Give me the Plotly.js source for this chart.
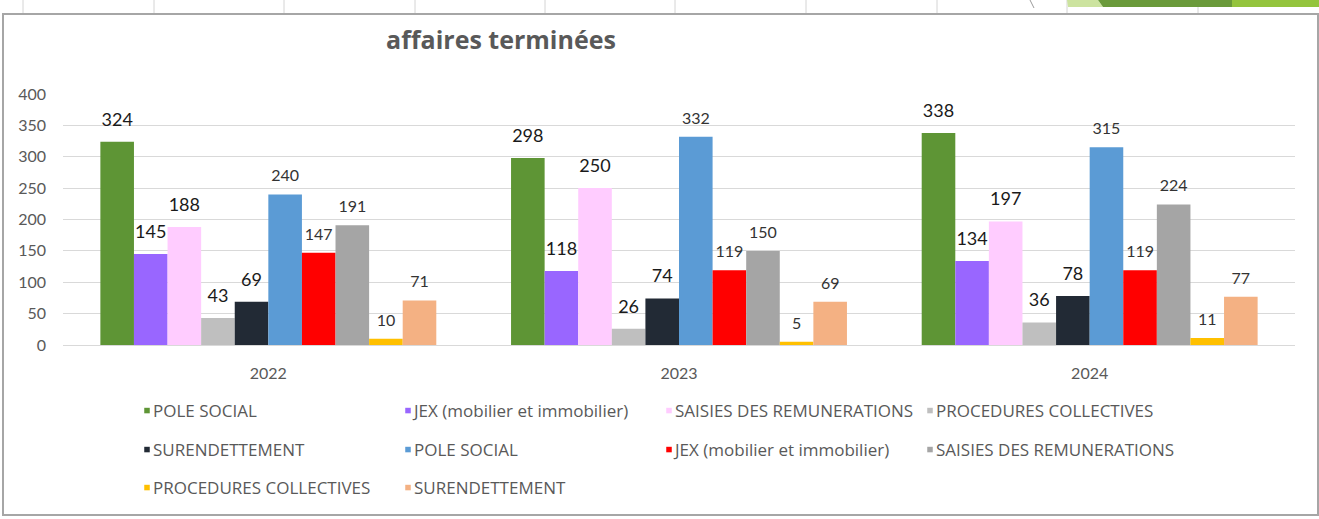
<!DOCTYPE html>
<html>
<head>
<meta charset="utf-8">
<script src="https://cdn.plot.ly/plotly-3.0.1.min.js"></script>
<style>
  html, body { margin: 0; padding: 0; background: #ffffff; }
  #chart { width: 1319px; height: 519px; }
  /* Excel-style small legend keys sitting just before their text */
  #chart g.legendpoints path {
    transform-box: fill-box;
    transform-origin: center;
    transform: translate(34px, 0px) scale(0.46) !important;
  }
</style>
</head>
<body>
<div id="chart"></div>
<script>
// ---- data ----
const years = ['2022', '2023', '2024'];
const seriesNames = [
  'POLE SOCIAL', 'JEX (mobilier et immobilier)', 'SAISIES DES REMUNERATIONS', 'PROCEDURES COLLECTIVES', 'SURENDETTEMENT',
  'POLE SOCIAL', 'JEX (mobilier et immobilier)', 'SAISIES DES REMUNERATIONS', 'PROCEDURES COLLECTIVES', 'SURENDETTEMENT'
];
const poleSocial1   = [324, 298, 338];
const jex1          = [145, 118, 134];
const saisies1      = [188, 250, 197];
const procedures1   = [43, 26, 36];
const surend1       = [69, 74, 78];
const poleSocial2   = [240, 332, 315];
const jex2          = [147, 119, 119];
const saisies2      = [191, 150, 224];
const procedures2   = [10, 5, 11];
const surend2       = [71, 69, 77];
const seriesValues = [poleSocial1, jex1, saisies1, procedures1, surend1,
                      poleSocial2, jex2, saisies2, procedures2, surend2];
const yTicks = [0, 50, 100, 150, 200, 250, 300, 350, 400];

// ---- styles ----
const colors = ['#5e9535', '#9966ff', '#ffccff', '#bfbfbf', '#222a35',
                '#5b9bd5', '#ff0000', '#a5a5a5', '#ffc000', '#f4b183'];
const labelSizes = [18, 18, 18, 18, 18, 16, 16, 16, 16, 16];
const labelGap = [17, 17, 17, 17, 17, 13, 13, 13, 13, 13];
const labelColors = ['#1a1a1a','#1a1a1a','#1a1a1a','#1a1a1a','#1a1a1a',
                     '#333333','#333333','#333333','#333333','#333333'];
const legendOf = ['legend','legend','legend','legend','legend2','legend2','legend2','legend2','legend3','legend3'];
const lastInRow = [false, false, false, true, false, false, false, true, false, true];
const FONT = 'Lato, "Open Sans", sans-serif';
const LEGFONT = '"Open Sans", Lato, sans-serif';

const traces = [];
seriesValues.forEach((vals, i) => {
  const t = {
    type: 'bar', x: years, y: vals, name: seriesNames[i],
    marker: {color: colors[i], line: {width: 0}},
    legend: legendOf[i], hoverinfo: 'skip'
  };
  if (lastInRow[i]) t.legendwidth = 260;
  traces.push(t);
});
seriesValues.forEach((vals, i) => {
  traces.push({
    type: 'scatter', mode: 'markers+text', x: years, y: vals,
    text: vals.map(String), textposition: 'top center',
    textfont: {family: FONT, size: labelSizes[i], color: labelColors[i]},
    marker: {size: labelGap[i], opacity: 0, color: colors[i]},
    showlegend: false, hoverinfo: 'skip', cliponaxis: false
  });
});

// pixel -> paper helpers for decorations
const L = 63, T = 94, PW = 1232, PH = 251;
const px = v => (v - L) / PW;
const py = v => (T + PH - v) / PH;

const shapes = [];
// chart frame
shapes.push({type: 'rect', xref: 'paper', yref: 'paper', x0: px(3), x1: px(1318), y0: py(515), y1: py(14),
  line: {color: '#a6a6a6', width: 2}, layer: 'below'});
// spreadsheet column marks above frame
[23, 154, 284, 415, 545, 675, 806, 937, 1067, 1198].forEach(x => {
  shapes.push({type: 'line', xref: 'paper', yref: 'paper', x0: px(x), x1: px(x), y0: py(0), y1: py(13),
    line: {color: '#d4d4d4', width: 1}});
});
// slide decoration top right
const poly = (pts) => 'M' + pts.map(p => px(p[0]) + ',' + py(p[1])).join('L') + 'Z';
shapes.push({type: 'path', xref: 'paper', yref: 'paper', path: poly([[1067,0],[1098,0],[1103,7],[1068,7]]),
  fillcolor: '#cce39f', line: {width: 0}});
shapes.push({type: 'path', xref: 'paper', yref: 'paper', path: poly([[1098,0],[1232,0],[1232,7],[1103,7]]),
  fillcolor: '#6a9a3a', line: {width: 0}});
shapes.push({type: 'path', xref: 'paper', yref: 'paper', path: poly([[1232,0],[1319,0],[1319,7],[1232,7]]),
  fillcolor: '#94c43d', line: {width: 0}});
shapes.push({type: 'line', xref: 'paper', yref: 'paper', x0: px(1030), x1: px(1034), y0: py(0), y1: py(8),
  line: {color: '#9a9a9a', width: 1}});

const legendBase = {
  orientation: 'h', xanchor: 'left', yanchor: 'middle', x: px(113),
  entrywidth: 216, entrywidthmode: 'pixels', bgcolor: 'rgba(0,0,0,0)',
  font: {family: LEGFONT, size: 17, color: '#595959'}, traceorder: 'normal'
};

const layout = {
  width: 1319, height: 519,
  margin: {l: L, r: 1319 - L - PW, t: T, b: 519 - T - PH, autoexpand: false},
  paper_bgcolor: '#ffffff', plot_bgcolor: 'rgba(0,0,0,0)',
  font: {family: FONT, color: '#595959'},
  title: {text: '<b>affaires terminées</b>', x: 501 / 1319, xanchor: 'center', xref: 'container',
          y: 1 - 40 / 519, yanchor: 'middle', yref: 'container',
          font: {family: '"Open Sans", Lato, sans-serif', size: 25, color: '#595959'}},
  barmode: 'group', bargap: 0.182, bargroupgap: 0,
  scattermode: 'group', scattergap: 0.182,
  xaxis: {type: 'category', categoryorder: 'array', categoryarray: years,
          showgrid: false, showline: false, zeroline: false, ticks: '',
          tickfont: {family: FONT, size: 16, color: '#595959'}, ticklabelstandoff: 17},
  yaxis: {range: [0, 400], tickvals: yTicks, ticktext: yTicks.map(String),
          showgrid: true, gridcolor: '#d9d9d9', gridwidth: 1, zeroline: true, zerolinecolor: '#d9d9d9',
          showline: false, ticks: '', tickfont: {family: FONT, size: 16, color: '#595959'},
          ticklabelstandoff: 16},
  legend: Object.assign({}, legendBase, {y: py(411)}),
  legend2: Object.assign({}, legendBase, {y: py(450)}),
  legend3: Object.assign({}, legendBase, {y: py(488)}),
  shapes: shapes,
  showlegend: true
};

Plotly.newPlot('chart', traces, layout, {displayModeBar: false, staticPlot: true});
</script>
</body>
</html>
